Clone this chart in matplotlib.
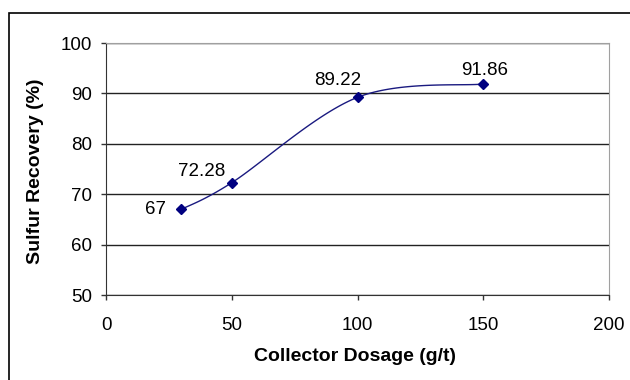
import numpy as np
import matplotlib.pyplot as plt
from matplotlib.patches import Rectangle

plt.rcParams['font.family'] = ['Liberation Sans', 'DejaVu Sans']

# collector dosage vs sulfur recovery
dosage = [30, 50, 100, 150]
recovery = [67, 72.28, 89.22, 91.86]
labels = ['67', '72.28', '89.22', '91.86']
label_offsets = [(-19, 0), (-22, 8), (-14, 12), (1, 10)]


def smooth(x, y, n=40):
    # Catmull-Rom style bezier segments, like a spreadsheet "smoothed line"
    x = np.asarray(x, float)
    y = np.asarray(y, float)
    px = np.concatenate([[x[0]], x, [x[-1]]])
    py = np.concatenate([[y[0]], y, [y[-1]]])
    xs, ys = [], []
    t = np.linspace(0, 1, n)
    for i in range(1, len(px) - 2):
        p0 = np.array([px[i], py[i]])
        p3 = np.array([px[i + 1], py[i + 1]])
        p1 = p0 + (np.array([px[i + 1], py[i + 1]]) - np.array([px[i - 1], py[i - 1]])) / 6
        p2 = p3 - (np.array([px[i + 2], py[i + 2]]) - np.array([px[i], py[i]])) / 6
        b = ((1 - t) ** 3)[:, None] * p0 + (3 * (1 - t) ** 2 * t)[:, None] * p1 \
            + (3 * (1 - t) * t ** 2)[:, None] * p2 + (t ** 3)[:, None] * p3
        xs.extend(b[:, 0])
        ys.extend(b[:, 1])
    return xs, ys


fig = plt.figure(figsize=(6.3, 3.8), dpi=100)
ax = fig.add_axes([106 / 630, 1 - 295 / 380, (609 - 106) / 630, (295 - 43) / 380])

# chart border (runs off the right and bottom)
fig.patches.append(Rectangle((9 / 630, -0.1), 1.0, 1 - 13 / 380 + 0.1,
                             transform=fig.transFigure, fill=False,
                             edgecolor='black', linewidth=1.2))

sx, sy = smooth(dosage, recovery)
ax.plot(sx, sy, color='#1a1a80', linewidth=1)
ax.plot(dosage, recovery, linestyle='none', marker='D', markersize=5.5,
        color='#000080')

for x, y, lab, off in zip(dosage, recovery, labels, label_offsets):
    ax.annotate(lab, (x, y), xytext=off, textcoords='offset points',
                ha='center', va='center', fontsize=13.5)

ax.set_xlim(0, 200)
ax.set_ylim(50, 100)
ax.set_xticks([0, 50, 100, 150, 200])
ax.set_yticks([50, 60, 70, 80, 90, 100])
ax.yaxis.grid(True, color='#222222', linewidth=1)
ax.set_axisbelow(True)

ax.spines['top'].set_color('#a0a0a0')
ax.spines['right'].set_color('#a0a0a0')
ax.spines['left'].set_color('#333333')
ax.spines['bottom'].set_color('#333333')
ax.tick_params(direction='out', length=3.6, width=1, colors='#333333',
               labelcolor='black', labelsize=13.5)
ax.tick_params(axis='x', pad=12)
ax.tick_params(axis='y', pad=6.5)

ax.set_xlabel('Collector Dosage (g/t)', fontsize=14, fontweight='bold')
ax.set_ylabel('Sulfur Recovery (%)', fontsize=14, fontweight='bold')
ax.xaxis.set_label_coords(0.495, -0.246)
ax.yaxis.set_label_coords(-0.141, 0.49)
ax.xaxis.label.set_va('center')
ax.yaxis.label.set_va('center')

fig.savefig('out.png', dpi=100)
